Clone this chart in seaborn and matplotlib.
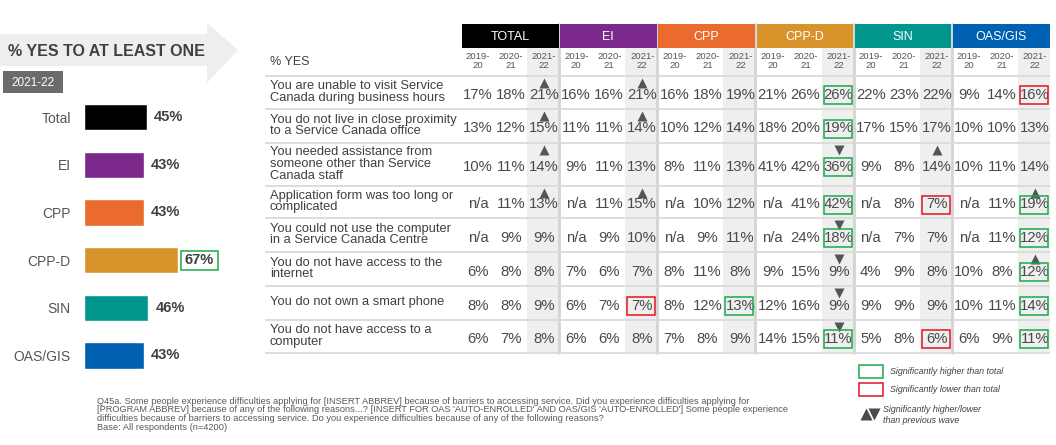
import matplotlib
matplotlib.use("Agg")
import matplotlib.pyplot as plt
from matplotlib.patches import Rectangle, Polygon
import pandas as pd
import seaborn as sns

sns.set_style("white")
plt.rcParams["font.family"] = ["Liberation Sans", "DejaVu Sans"]

# ---- left panel: % yes to at least one (2021-22)
programs = ["Total", "EI", "CPP", "CPP-D", "SIN", "OAS/GIS"]
at_least_one = [45, 43, 43, 67, 46, 43]
at_least_one_sig = ["", "", "", "g", "", ""]
colors = ["#000000", "#7b2a8c", "#eb6b2f", "#d8942a", "#00968d", "#0060b1"]

# ---- table
groups = ["TOTAL", "EI", "CPP", "CPP-D", "SIN", "OAS/GIS"]
years = ["2019-\n20", "2020-\n21", "2021-\n22"]
reasons = [
    "You are unable to visit Service\nCanada during business hours",
    "You do not live in close proximity\nto a Service Canada office",
    "You needed assistance from\nsomeone other than Service\nCanada staff",
    "Application form was too long or\ncomplicated",
    "You could not use the computer\nin a Service Canada Centre",
    "You do not have access to the\ninternet",
    "You do not own a smart phone",
    "You do not have access to a\ncomputer",
]

# values per group: rows = reasons, cols = years (None = n/a)
total = [[17, 18, 21], [13, 12, 15], [10, 11, 14], [None, 11, 13],
         [None, 9, 9], [6, 8, 8], [8, 8, 9], [6, 7, 8]]
ei = [[16, 16, 21], [11, 11, 14], [9, 11, 13], [None, 11, 15],
      [None, 9, 10], [7, 6, 7], [6, 7, 7], [6, 6, 8]]
cpp = [[16, 18, 19], [10, 12, 14], [8, 11, 13], [None, 10, 12],
       [None, 9, 11], [8, 11, 8], [8, 12, 13], [7, 8, 9]]
cppd = [[21, 26, 26], [18, 20, 19], [41, 42, 36], [None, 41, 42],
        [None, 24, 18], [9, 15, 9], [12, 16, 9], [14, 15, 11]]
sin = [[22, 23, 22], [17, 15, 17], [9, 8, 14], [None, 8, 7],
       [None, 7, 7], [4, 9, 8], [9, 9, 9], [5, 8, 6]]
oas = [[9, 14, 16], [10, 10, 13], [10, 11, 14], [None, 11, 19],
       [None, 11, 12], [10, 8, 12], [10, 11, 14], [6, 9, 11]]

# change vs previous wave (2021-22): u = up, d = down
total_wave = ["u", "u", "u", "u", "", "", "", ""]
ei_wave = ["u", "u", "", "u", "", "", "", ""]
cpp_wave = ["", "", "", "", "", "", "", ""]
cppd_wave = ["", "", "d", "", "d", "d", "d", "d"]
sin_wave = ["", "", "u", "", "", "", "", ""]
oas_wave = ["", "", "", "u", "", "u", "", ""]

# vs total (2021-22): g = higher, r = lower
total_sig = ["", "", "", "", "", "", "", ""]
ei_sig = ["", "", "", "", "", "", "r", ""]
cpp_sig = ["", "", "", "", "", "", "g", ""]
cppd_sig = ["g", "g", "g", "g", "g", "", "", "g"]
sin_sig = ["", "", "", "r", "", "", "", "r"]
oas_sig = ["r", "", "", "g", "g", "g", "g", "g"]

group_vals = [total, ei, cpp, cppd, sin, oas]
group_wave = [total_wave, ei_wave, cpp_wave, cppd_wave, sin_wave, oas_wave]
group_sig = [total_sig, ei_sig, cpp_sig, cppd_sig, sin_sig, oas_sig]

footnote = [
    "Q45a. Some people experience difficulties applying for [INSERT ABBREV] because of barriers to accessing service. Did you experience difficulties applying for",
    "[PROGRAM ABBREV] because of any of the following reasons...? [INSERT FOR OAS 'AUTO-ENROLLED' AND OAS/GIS 'AUTO-ENROLLED'] Some people experience",
    "difficulties because of barriers to accessing service. Do you experience difficulties because of any of the following reasons?",
    "Base: All respondents (n=4200)",
]

GREEN = "#1aab4b"
RED = "#e3141f"
TXT = "#4a4a4a"

W, H = 1056, 445
fig = plt.figure(figsize=(W / 100, H / 100), dpi=100, facecolor="white")

# overlay axes in pixel units for the table and decorations
ov = fig.add_axes([0, 0, 1, 1])
ov.set_xlim(0, W)
ov.set_ylim(H, 0)
ov.axis("off")
ov.patch.set_alpha(0)

# title arrow + year badge
ov.add_patch(Polygon([(0, 34), (207, 34), (207, 23), (238, 50), (207, 83), (207, 66), (0, 66)],
                     closed=True, facecolor="#eeeeee", edgecolor="none"))
ov.text(8, 51, "% YES TO AT LEAST ONE", fontsize=11.5, fontweight="bold", color="#404040",
        ha="left", va="center")
ov.add_patch(Rectangle((3, 71), 60, 22, facecolor="#6b6b6b", edgecolor="none"))
ov.text(33, 82.5, "2021-22", fontsize=8.5, color="white", ha="center", va="center")

# table layout
row_edges = [76, 109, 143, 186, 218, 252, 286, 320, 353]
gx0, gpitch, colw = 462, 98.2, 33
tab_left, tab_right = 265, 1050

for g, name in enumerate(groups):
    x0 = gx0 + g * gpitch
    # shaded current-year column
    ov.add_patch(Rectangle((x0 + 65, 48), 32, row_edges[-1] - 48,
                           facecolor="#efefef", edgecolor="none", zorder=0))
    ov.add_patch(Rectangle((x0, 24), 96.5, 24, facecolor=colors[g], edgecolor="none", zorder=2))
    ov.text(x0 + 48, 36.5, name, fontsize=9, color="white", ha="center", va="center", zorder=3)
    for c, yl in enumerate(years):
        ov.text(x0 + 16 + colw * c, 61, yl, fontsize=6.8, color="#555555", ha="center",
                va="center", linespacing=0.9, zorder=3)
    if g > 0:
        ov.plot([x0 - 1.2, x0 - 1.2], [24, row_edges[-1]], color="#d4d4d4", lw=2, zorder=1)

ov.hlines(row_edges, tab_left, tab_right, color="#dadada", lw=1.3, zorder=1)
ov.text(270, 62, "% YES", fontsize=9, color="#404040", ha="left", va="center")

for r, label in enumerate(reasons):
    top, bot = row_edges[r], row_edges[r + 1]
    yc = (top + bot) / 2
    ov.text(270, yc - 0.5, label, fontsize=9.3, color="#404040", ha="left", va="center",
            linespacing=0.95)
    for g in range(len(groups)):
        x0 = gx0 + g * gpitch
        for c in range(3):
            v = group_vals[g][r][c]
            xc = x0 + 16 + colw * c
            ov.text(xc, yc + 2.5, "n/a" if v is None else f"{v}%", fontsize=10.7, color=TXT,
                    ha="center", va="center", zorder=3)
        xc = x0 + 16 + colw * 2
        w = group_wave[g][r]
        if w:
            ov.plot(xc, top + 6.5, marker="^" if w == "u" else "v", ms=7.5,
                    color="#555555", mec="none", zorder=3)
        s = group_sig[g][r]
        if s:
            ov.add_patch(Rectangle((xc - 15, yc + 2.5 - 9), 28, 18, fill=False,
                                   edgecolor=GREEN if s == "g" else RED, lw=1.1, zorder=4))

# legend
ov.add_patch(Rectangle((859, 365), 24, 13, fill=False, edgecolor=GREEN, lw=1.1))
ov.text(890, 371.5, "Significantly higher than total", fontsize=6.4, style="italic",
        color="#404040", ha="left", va="center")
ov.add_patch(Rectangle((859, 383), 24, 13, fill=False, edgecolor=RED, lw=1.1))
ov.text(890, 389.5, "Significantly lower than total", fontsize=6.4, style="italic",
        color="#404040", ha="left", va="center")
ov.plot([866], [414], marker="^", ms=8, color="#4a4a4a", mec="none")
ov.plot([874], [414], marker="v", ms=8, color="#4a4a4a", mec="none")
ov.text(883, 409.5, "Significantly higher/lower", fontsize=6.4, style="italic",
        color="#404040", ha="left", va="center")
ov.text(883, 420.5, "than previous wave", fontsize=6.4, style="italic",
        color="#404040", ha="left", va="center")

# footnote
for i, line in enumerate(footnote):
    ov.text(97, 401 + i * 8.7, line, fontsize=6.65, color="#595959", ha="left", va="center")

# ---- bar chart with seaborn
axb = fig.add_axes([84 / W, (H - 379.3) / H, 140 / W, 286 / H])
axb.patch.set_alpha(0)
df = pd.DataFrame({"program": programs, "pct": at_least_one})
sns.barplot(data=df, x="pct", y="program", hue="program", order=programs,
            palette=dict(zip(programs, colors)), width=0.556, orient="h",
            legend=False, ax=axb, saturation=1)
axb.set_xlim(0, 100)
axb.set_ylim(5.5, -0.5)
axb.set_xlabel("")
axb.set_ylabel("")
axb.set_xticks([])
axb.tick_params(axis="y", length=0, pad=9.5, labelsize=10, labelcolor="#555555")
for sp in axb.spines.values():
    sp.set_visible(False)
for i, (v, s) in enumerate(zip(at_least_one, at_least_one_sig)):
    axb.text(v + 5, i, f"{v}%", fontsize=10.5, fontweight="bold", color="#404040",
             ha="left", va="center")
    if s:
        axb.add_patch(Rectangle((v + 2.3, i - 0.2), 26.4, 0.4, fill=False,
                                edgecolor=GREEN if s == "g" else RED, lw=1.1, clip_on=False))

fig.savefig("out.png", dpi=100)
